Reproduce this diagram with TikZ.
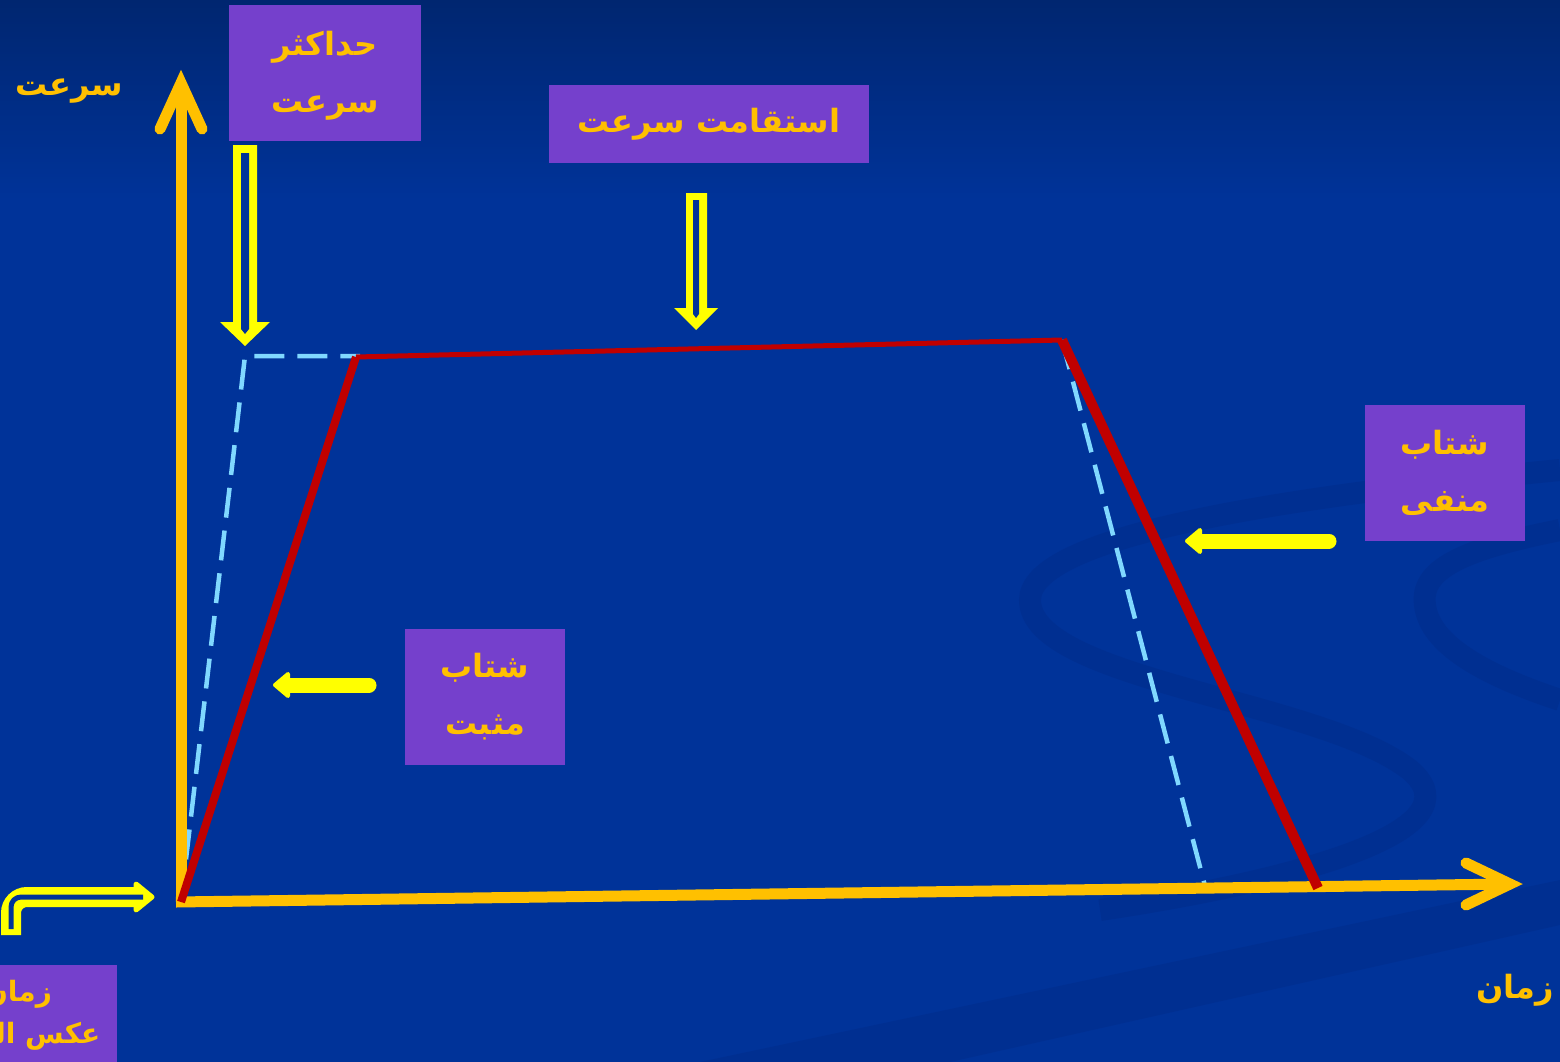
\documentclass[tikz,border=0pt]{standalone}
\usepackage{fontspec}
\TeXXeTstate=1
\newfontfamily\arabicfont[Script=Arabic]{DejaVu Sans}
\definecolor{bgc}{RGB}{0,51,153}
\definecolor{bgtop}{RGB}{0,38,112}
\definecolor{swirl}{RGB}{0,44,138}
\definecolor{boxc}{RGB}{117,64,204}
\definecolor{labelc}{RGB}{255,192,0}
\definecolor{arrowy}{RGB}{255,255,0}
\definecolor{redc}{RGB}{192,0,0}
\definecolor{dashc}{RGB}{128,216,255}
\begin{document}
\begin{tikzpicture}[x=1pt,y=-1pt,
  lbl/.style={font=\arabicfont\bfseries\fontsize{32}{57}\selectfont, text=labelc, align=center, inner sep=0pt},
  pbox/.style={fill=boxc, draw=none, inner sep=0pt},
  axis/.style={draw=labelc, line width=11pt},
  redl/.style={draw=redc, line width=9pt},
  dashl/.style={draw=dashc, line width=4.5pt, dash pattern=on 30pt off 13pt},
  solidarr/.style={draw=arrowy, fill=arrowy, line width=15pt, line cap=round},
]
\useasboundingbox (0,0) rectangle (1560,1062);
\clip (0,0) rectangle (1560,1062);
% background
\fill[bgc] (0,0) rectangle (1560,1062);
\shade[top color=bgtop, bottom color=bgc] (0,0) rectangle (1560,200);
% swirl decoration
\begin{scope}[swirl, line width=22pt, opacity=0.5]
\draw (1560,470) .. controls (1250,500) and (1030,540) .. (1030,600) .. controls (1030,680) and (1320,700) .. (1410,770) .. controls (1480,830) and (1300,880) .. (1100,910);
\draw (1560,530) .. controls (1460,550) and (1420,570) .. (1425,605) .. controls (1430,650) and (1500,680) .. (1560,700);
\fill (700,1062) -- (1560,880) -- (1560,925) -- (950,1062) -- cycle;
\end{scope}
% coordinates
\coordinate (O) at (181,902);
\coordinate (Ytip) at (181,83);
\coordinate (Xtip) at (1510,884);
\coordinate (A) at (356,357);
\coordinate (B) at (1062,340);
\coordinate (C) at (1318,888);
\coordinate (D1) at (245,356);
\coordinate (D2) at (360,356);
\coordinate (D3) at (1205,886);
% dashed ideal profile
\draw[dashl, line join=miter] (O) -- (D1) -- (D2);
\draw[dashl] (B) -- (D3);
% axes
\draw[axis] (181,907) -- (Ytip);
\draw[axis, line cap=round, line join=miter] (160,129) -- (Ytip) -- (202,129);
\draw[axis] (176,902) -- (Xtip);
\draw[axis, line cap=round, line join=miter] (1466,863) -- (Xtip) -- (1466,905);
% red actual profile
\draw[redl, line width=8pt] (O) -- (A);
\draw[redl, line width=5pt] (A) -- (B);
\draw[redl, line width=10pt] (B) -- (C);
% boxes
\node[pbox, minimum width=192pt, minimum height=136pt] (b1) at (325,73) {};
\node[lbl] (t1) at (325,76) {\beginR حداکثر\endR\\\beginR سرعت\endR};
\node[pbox, minimum width=320pt, minimum height=78pt] (b2) at (709,124) {};
\node[lbl] (t2) at (b2.center) {\beginR استقامت سرعت\endR};
\node[pbox, minimum width=160pt, minimum height=136pt] (b3) at (1445,473) {};
\node[lbl] (t3) at (b3.center) {\beginR شتاب\endR\\\beginR منفی\endR};
\node[pbox, minimum width=160pt, minimum height=136pt] (b4) at (485,697) {};
\node[lbl] (t4) at (b4.center) {\beginR شتاب\endR\\\beginR مثبت\endR};
\node[pbox, minimum width=194pt, minimum height=140pt, anchor=north east] (b5) at (117,965) {};
\node[lbl, font=\arabicfont\bfseries\fontsize{28}{42}\selectfont, anchor=north] (t5) at (18,980) {\beginR زمان\endR\\\beginR عکس العمل\endR};
% free labels
\node[lbl] (ly) at (69,91) {\beginR سرعت\endR};
\node[lbl] (lx) at (1515,990) {\beginR زمان\endR};
% hollow down arrows
\fill[arrowy] (233,145) -- (257,145) -- (257,322) -- (270,322) -- (245,346) -- (220,322) -- (233,322) -- cycle;
\fill[bgc] (241,153) -- (249,153) -- (249,329) -- (245,334) -- (241,329) -- cycle;
\fill[arrowy] (686,193) -- (707,193) -- (707,308) -- (718,308) -- (696,330) -- (674,308) -- (686,308) -- cycle;
\fill[bgc] (693,200) -- (699,200) -- (699,314) -- (696,318) -- (693,314) -- cycle;
% solid left arrows
\coordinate (s1) at (369,685);
\coordinate (e1) at (287,685);
\draw[solidarr] (s1) -- (e1);
\filldraw[arrowy, line width=4pt, line join=round] (275,685) -- (288,674) -- (288,696) -- cycle;
\coordinate (s2) at (1329,541);
\coordinate (e2) at (1198,541);
\draw[solidarr] (s2) -- (e2);
\filldraw[arrowy, line width=4pt, line join=round] (1187,541) -- (1200,530) -- (1200,552) -- cycle;
% bent hollow arrow
\coordinate (h0) at (11,935);
\coordinate (h1) at (11,897);
\coordinate (h2) at (140,897);
\draw[arrowy, line width=20pt, rounded corners=16pt] (h0) -- (h1) -- (h2);
\filldraw[arrowy, line width=5pt, line join=round] (152,897) -- (136,884) -- (136,910) -- cycle;
\draw[bgc, line width=5pt, rounded corners=10pt] (11,929) -- (h1) -- (143,897);
\end{tikzpicture}
\end{document}
